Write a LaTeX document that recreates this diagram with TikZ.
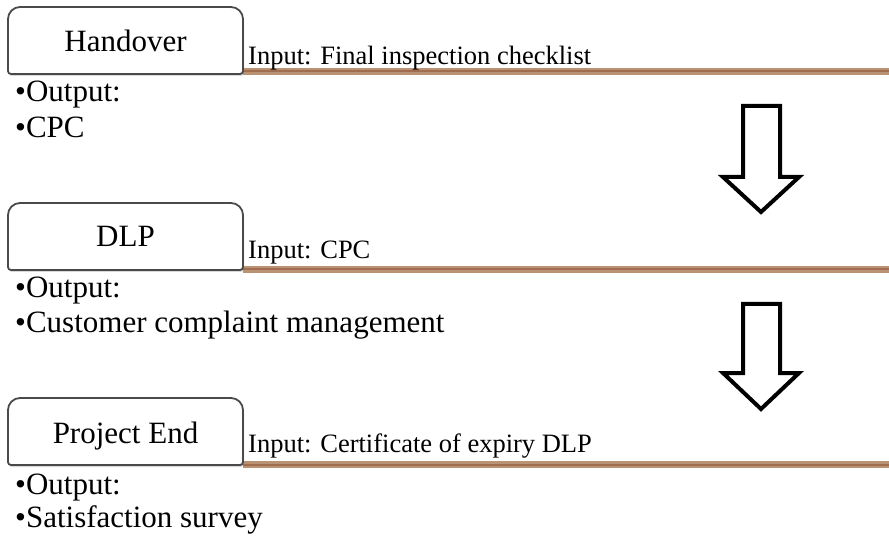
\documentclass[tikz,border=0pt]{standalone}
\usepackage{fontspec}
\setmainfont{Liberation Serif}
\usetikzlibrary{shadows}
\definecolor{bandout}{HTML}{BA9274}
\definecolor{bandin}{HTML}{A06E4E}
\definecolor{boxline}{HTML}{4A4A4A}
\begin{document}
\begin{tikzpicture}[x=1pt,y=-1pt,
  txt/.style={font=\fontsize{31}{36}\selectfont, inner sep=0pt, anchor=base west},
  intxt/.style={font=\fontsize{26.5}{32}\selectfont, inner sep=0pt, anchor=base west},
  stagebox/.style={draw=boxline, line width=1.8pt, fill=white,
     drop shadow={shadow xshift=1pt, shadow yshift=-2pt, opacity=0.3}},
  bandouter/.style={draw=bandout, line width=7.5pt},
  bandinner/.style={draw=bandin, line width=2pt},
  blockarrow/.style={draw=black, line width=4pt, fill=white, line join=miter}]
\useasboundingbox (0,0) rectangle (889,537);
% rows
\foreach \r/\dy in {1/0, 2/198, 3/393} {
  \coordinate (bl\r) at (243,71.5+\dy);
  \coordinate (br\r) at (889,71.5+\dy);
  \draw[bandouter] (bl\r) -- (br\r);
  \draw[bandinner] (bl\r) -- (br\r);
}
% boxes (tab shape: rounded top corners)
\foreach \r/\dy in {1/0, 2/196, 3/391} {
  \draw[stagebox] (8,71+\dy) -- (8,19+\dy) .. controls (8,12.4+\dy) and (13.4,7+\dy) .. (20,7+\dy)
     -- (231,7+\dy) .. controls (237.6,7+\dy) and (243,12.4+\dy) .. (243,19+\dy)
     -- (243,71+\dy) .. controls (243,72.7+\dy) and (241.7,74+\dy) .. (240,74+\dy)
     -- (11,74+\dy) .. controls (9.3,74+\dy) and (8,72.7+\dy) .. (8,71+\dy) -- cycle;
}
% box labels
\node[txt, anchor=base] (h1) at (125.5,52) {Handover};
\node[txt, anchor=base] (h2) at (125.5,247) {DLP};
\node[txt, anchor=base] (h3) at (125.5,443) {Project End};
% inputs
\node[intxt] (i1) at (248,65) {Input: Final inspection checklist};
\node[intxt] (i2) at (248,258.5) {Input: CPC};
\node[intxt] (i3) at (248,452) {Input: Certificate of expiry DLP};
% outputs
\node[txt] (o1) at (15,101.5) {•Output:};
\node[txt] (p1) at (15,137.5) {•CPC};
\node[txt] (o2) at (15,298) {•Output:};
\node[txt] (p2) at (15,333) {•Customer complaint management};
\node[txt] (o3) at (15,494) {•Output:};
\node[txt] (p3) at (15,527) {•Satisfaction survey};
% block arrows
\foreach \r/\top/\wing/\tip in {1/106/177/212, 2/304/373/409} {
  \draw[blockarrow] (743,\top) -- (780,\top) -- (780,\wing) -- (799,\wing) -- (761,\tip) -- (723,\wing) -- (743,\wing) -- cycle;
}
\end{tikzpicture}
\end{document}
